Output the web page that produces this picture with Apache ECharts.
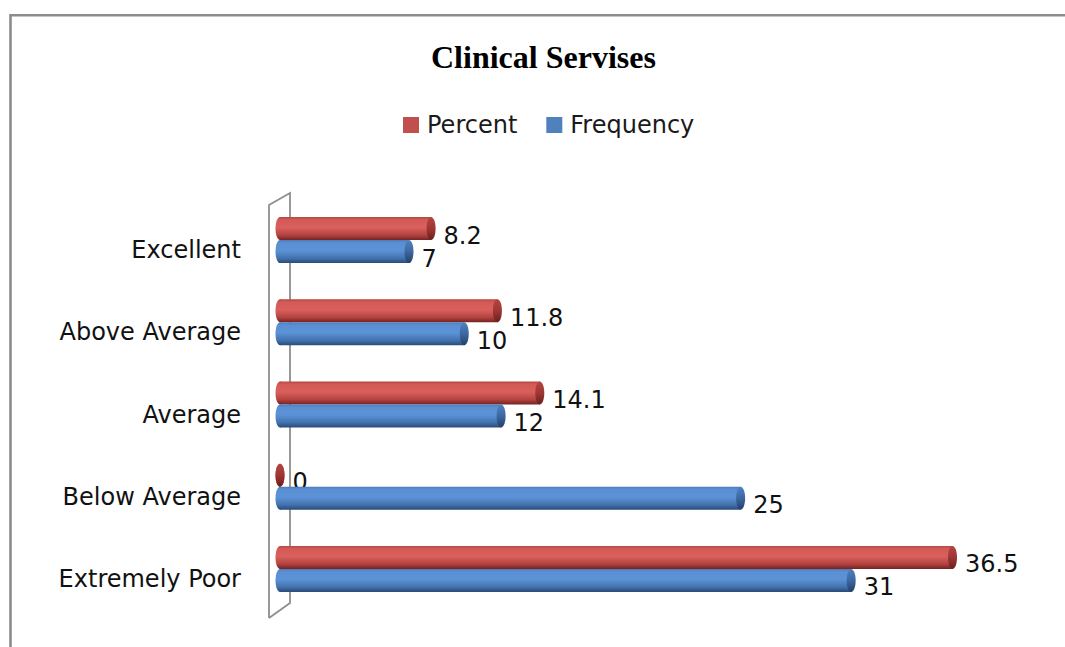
<!DOCTYPE html>
<html>
<head>
<meta charset="utf-8">
<title>Clinical Servises</title>
<script src="https://cdn.jsdelivr.net/npm/echarts@6/dist/echarts.min.js"></script>
<style>
  html, body { margin: 0; padding: 0; background: #ffffff; }
  #chart { width: 1065px; height: 647px; }
</style>
</head>
<body>
<div id="chart"></div>
<script>
// Survey answers, listed top to bottom
const categories = ['Excellent', 'Above Average', 'Average', 'Below Average', 'Extremely Poor'];
const percentValues = [8.2, 11.8, 14.1, 0, 36.5];
const frequencyValues = [7, 10, 12, 25, 31];
const seriesNames = ['Percent', 'Frequency'];

const GRID = { left: 280, top: 199, right: 48, bottom: 37 };
const W = 1065, H = 647;
const LABEL_FONT = 'DejaVu Sans';
const LABEL_SIZE = 24;

const palettes = [
  { // red cylinders
    base: '#C0504D',
    body: [[0, '#b54643'], [0.12, '#d45a57'], [0.45, '#da605d'], [0.78, '#b44441'], [1, '#742321']],
    cap: [[0, '#b34542'], [0.5, '#9e3734'], [1, '#6a1f1d']]
  },
  { // blue cylinders
    base: '#4F81BD',
    body: [[0, '#4a7cba'], [0.12, '#5a90d3'], [0.45, '#5c93d6'], [0.78, '#4373b0'], [1, '#2a4a76']],
    cap: [[0, '#4f82c0'], [0.5, '#3c68a2'], [1, '#243f66']]
  }
];

function grad(stops) {
  return new echarts.graphic.LinearGradient(0, 0, 0, 1,
    stops.map(s => ({ offset: s[0], color: s[1] })));
}

// Each bar is drawn as a horizontal cylinder: rounded back end, body, darker front cap
function cylinderRenderer(slot) {
  const pal = palettes[slot];
  return function (params, api) {
    const v = api.value(0);
    const c = api.value(1);
    const start = api.coord([0, c]);
    const end = api.coord([v, c]);
    const band = api.size([0, 1])[1];
    const h = band * 0.28;
    const cy = start[1] + (slot === 0 ? -h / 2 : h / 2);
    const rx = 4.5, ry = h / 2;
    return {
      type: 'group',
      children: [
        { type: 'ellipse', shape: { cx: start[0], cy: cy, rx: rx, ry: ry }, style: { fill: grad(pal.body) } },
        { type: 'rect', shape: { x: start[0], y: cy - ry, width: end[0] - start[0], height: h }, style: { fill: grad(pal.body) } },
        { type: 'ellipse', shape: { cx: end[0], cy: cy, rx: rx, ry: ry }, style: { fill: grad(pal.cap) } },
        {
          type: 'text',
          style: {
            text: String(v), x: end[0] + rx + 8, y: cy + 7,
            align: 'left', verticalAlign: 'middle',
            fontFamily: LABEL_FONT, fontSize: LABEL_SIZE, fill: '#111111'
          }
        }
      ]
    };
  };
}

// Perspective wall standing behind the category axis
const gx = GRID.left, gTop = GRID.top, gBottom = H - GRID.bottom;
const wallPoints = [
  [gx - 11, gBottom + 8],
  [gx - 11, gTop + 6],
  [gx + 10, gTop - 6],
  [gx + 10, gBottom - 7],
  [gx - 11, gBottom + 8]
];

const seriesData = [percentValues, frequencyValues];

const option = {
  backgroundColor: '#ffffff',
  animation: false,
  title: {
    text: 'Clinical Servises',
    left: 426,
    top: 36,
    textStyle: { fontFamily: 'Liberation Serif', fontWeight: 'bold', fontSize: 32, color: '#000000' }
  },
  legend: {
    left: 398,
    top: 108,
    itemWidth: 16,
    itemHeight: 16,
    itemGap: 29,
    data: seriesNames.map((n, i) => ({ name: n, icon: 'rect', itemStyle: { color: palettes[i].base } })),
    textStyle: { fontFamily: LABEL_FONT, fontSize: LABEL_SIZE, color: '#1a1a1a', padding: [0, 0, 0, 3] }
  },
  grid: { left: GRID.left, top: GRID.top, right: GRID.right, bottom: GRID.bottom, containLabel: false },
  xAxis: {
    type: 'value', min: 0, max: 40, show: false
  },
  yAxis: {
    type: 'category',
    inverse: true,
    data: categories,
    axisLine: { show: false },
    axisTick: { show: false },
    splitLine: { show: false },
    axisLabel: {
      margin: 39,
      fontFamily: LABEL_FONT,
      fontSize: LABEL_SIZE,
      color: '#111111',
      verticalAlign: 'top',
      lineHeight: 20
    }
  },
  graphic: [
    {
      type: 'rect', z: -10, silent: true,
      shape: { x: 10.5, y: 15.3, width: W + 100, height: H + 100 },
      style: { fill: 'none', stroke: '#8c8c8c', lineWidth: 2.6 }
    },
    {
      type: 'polyline', z: -5, silent: true,
      shape: { points: wallPoints },
      style: { fill: 'none', stroke: '#8e8e8e', lineWidth: 1.8 }
    }
  ],
  series: seriesNames.map((name, i) => ({
    name: name,
    type: 'custom',
    itemStyle: { color: palettes[i].base },
    encode: { x: 0, y: 1 },
    renderItem: cylinderRenderer(i),
    data: seriesData[i].map((v, k) => [v, k]),
    z: 5
  }))
};

const chart = echarts.init(document.getElementById('chart'), null, { renderer: 'svg' });
chart.setOption(option);
</script>
</body>
</html>
